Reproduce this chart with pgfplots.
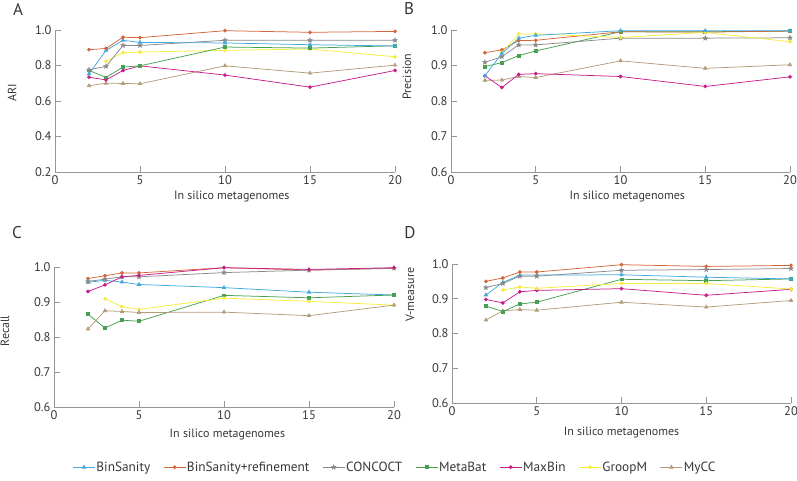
\documentclass[border=0pt]{standalone}
\usepackage{fontspec}
\setmainfont{PT Sans}
\usepackage{pgfplots}
\usepackage{pgfplotstable}
\pgfplotsset{compat=1.18}

\definecolor{cBS}{RGB}{64,170,222}
\definecolor{cBR}{RGB}{214,100,58}
\definecolor{cCC}{RGB}{138,138,138}
\definecolor{cMB}{RGB}{72,160,82}
\definecolor{cMX}{RGB}{200,30,140}
\definecolor{cGM}{RGB}{246,236,60}
\definecolor{cMY}{RGB}{180,156,122}
\definecolor{axgray}{RGB}{150,150,150}
\definecolor{txt}{RGB}{55,55,55}

% filled five-pointed star for CONCOCT
\pgfdeclareplotmark{fstar}{%
  \pgfpathmoveto{\pgfpointpolar{90}{\pgfplotmarksize}}%
  \pgfpathlineto{\pgfpointpolar{126}{0.42\pgfplotmarksize}}%
  \pgfpathlineto{\pgfpointpolar{162}{\pgfplotmarksize}}%
  \pgfpathlineto{\pgfpointpolar{198}{0.42\pgfplotmarksize}}%
  \pgfpathlineto{\pgfpointpolar{234}{\pgfplotmarksize}}%
  \pgfpathlineto{\pgfpointpolar{270}{0.42\pgfplotmarksize}}%
  \pgfpathlineto{\pgfpointpolar{306}{\pgfplotmarksize}}%
  \pgfpathlineto{\pgfpointpolar{342}{0.42\pgfplotmarksize}}%
  \pgfpathlineto{\pgfpointpolar{18}{\pgfplotmarksize}}%
  \pgfpathlineto{\pgfpointpolar{54}{0.42\pgfplotmarksize}}%
  \pgfpathclose
  \pgfusepathqfillstroke}

% x bs br cc mb mx gm my
\pgfplotstableread{
x  bs    br    cc    mb    mx    gm    my
2  0.753 0.889 0.776 0.772 0.734 nan   0.686
3  0.885 0.896 0.795 0.733 0.719 0.823 0.700
4  0.942 0.959 0.913 0.791 0.772 0.872 0.699
5  0.930 0.957 0.913 0.798 0.798 0.876 0.697
10 0.927 0.996 0.942 0.904 0.746 0.885 0.798
15 0.917 0.987 0.942 0.898 0.678 0.893 0.757
20 0.910 0.992 0.942 0.911 0.772 0.849 0.802
}\tabA

\pgfplotstableread{
x  bs    br    cc    mb    mx    gm    my
2  0.871 0.936 0.909 0.897 0.871 nan   0.858
3  0.934 0.944 0.925 0.908 0.838 0.937 0.859
4  0.977 0.970 0.958 0.928 0.875 0.989 0.869
5  0.985 0.971 0.958 0.941 0.877 0.989 0.866
10 0.998 0.995 0.977 0.995 0.869 0.979 0.913
15 0.998 0.994 0.977 0.995 0.841 0.993 0.892
20 0.998 0.997 0.978 0.997 0.868 0.967 0.902
}\tabB

\pgfplotstableread{
x  bs    br    cc    mb    mx    gm    my
2  0.956 0.967 0.959 0.865 0.930 nan   0.823
3  0.962 0.975 0.965 0.826 0.949 0.909 0.875
4  0.957 0.983 0.972 0.848 0.972 0.887 0.873
5  0.950 0.983 0.972 0.845 0.976 0.879 0.870
10 0.941 0.998 0.984 0.919 0.998 0.911 0.871
15 0.928 0.991 0.991 0.912 0.993 0.902 0.861
20 0.920 0.996 0.997 0.920 0.998 0.891 0.891
}\tabC

\pgfplotstableread{
x  bs    br    cc    mb    mx    gm    my
2  0.911 0.950 0.932 0.879 0.898 nan   0.839
3  0.947 0.960 0.944 0.863 0.888 0.925 0.865
4  0.968 0.977 0.965 0.885 0.920 0.934 0.869
5  0.968 0.977 0.965 0.890 0.924 0.930 0.867
10 0.969 0.998 0.982 0.956 0.929 0.944 0.890
15 0.962 0.993 0.984 0.952 0.910 0.944 0.876
20 0.957 0.996 0.987 0.957 0.927 0.928 0.895
}\tabD

\pgfplotsset{
  panel/.style={
    scale only axis, width=340pt, height=142pt,
    axis lines=left, axis line style={-, draw=axgray, line width=0.8pt},
    xmin=0, xmax=20, xtick={0,5,10,15,20},
    tick align=inside, major tick length=6pt,
    tick style={axgray, line width=0.8pt},
    tick label style={font=\fontsize{12.5}{14}\selectfont, text=txt},
    label style={font=\fontsize{12}{14}\selectfont, text=txt},
    yticklabel style={/pgf/number format/.cd, fixed, fixed zerofill, precision=1},
    /pgf/number format/assume math mode=true,
    clip=false,
    xlabel={In silico metagenomes},
    every axis plot/.append style={line width=0.75pt},
  },
  bs/.style={color=cBS, mark=triangle*, mark size=1.9pt, mark options={solid}},
  br/.style={color=cBR, mark=*, mark size=1.5pt},
  cc/.style={color=cCC, mark=fstar, mark size=2.6pt, mark options={line width=0.3pt}},
  mb/.style={color=cMB, mark=square*, mark size=1.4pt},
  mx/.style={color=cMX, mark=*, mark size=1.5pt},
  gm/.style={color=cGM, mark=*, mark size=1.5pt},
  my/.style={color=cMY, mark=triangle*, mark size=1.9pt},
}

\begin{document}
\begin{tikzpicture}
\useasboundingbox (0,0) rectangle (797pt,481pt);

\node[font=\fontsize{17}{20}\selectfont, text=txt] at (18pt,472pt) {A};
\node[font=\fontsize{17}{20}\selectfont, text=txt] at (409pt,472pt) {B};
\node[font=\fontsize{17}{20}\selectfont, text=txt] at (17pt,248pt) {C};
\node[font=\fontsize{17}{20}\selectfont, text=txt] at (410pt,248pt) {D};

% A
\begin{axis}[panel, at={(55pt,309pt)}, anchor=south west,
  ymin=0.2, ymax=1.0, ytick={0.2,0.4,0.6,0.8,1.0},
  ylabel={ARI},
  ylabel style={at={(axis description cs:-0.126,0.556)}, anchor=center},
  xlabel style={at={(axis description cs:0.52,-0.17)}, anchor=center}]
\addplot[my] table[y=my]{\tabA};
\addplot[gm] table[y=gm]{\tabA};
\addplot[mx] table[y=mx]{\tabA};
\addplot[mb] table[y=mb]{\tabA};
\addplot[cc] table[y=cc]{\tabA};
\addplot[bs] table[y=bs]{\tabA};
\addplot[br] table[y=br]{\tabA};
\end{axis}

% B
\begin{axis}[panel, at={(451pt,309pt)}, anchor=south west, width=339pt,
  ymin=0.6, ymax=1.0, ytick={0.6,0.7,0.8,0.9,1.0},
  ylabel={Precision},
  ylabel style={at={(axis description cs:-0.13,0.67)}, anchor=center},
  xlabel style={at={(axis description cs:0.52,-0.17)}, anchor=center}]
\addplot[my] table[y=my]{\tabB};
\addplot[mx] table[y=mx]{\tabB};
\addplot[mb] table[y=mb]{\tabB};
\addplot[cc] table[y=cc]{\tabB};
\addplot[br] table[y=br]{\tabB};
\addplot[gm] table[y=gm]{\tabB};
\addplot[bs] table[y=bs]{\tabB};
\end{axis}

% C (carries the legend)
\begin{axis}[panel, at={(54pt,74pt)}, anchor=south west, height=140pt,
  ymin=0.6, ymax=1.0, ytick={0.6,0.7,0.8,0.9,1.0},
  ylabel={Recall},
  ylabel style={at={(axis description cs:-0.144,0.543)}, anchor=center},
  xlabel style={at={(axis description cs:0.51,-0.2)}, anchor=center},
  legend columns=7,
  legend image code/.code={%
    \draw[mark repeat=2, mark phase=2] plot coordinates {(0pt,0pt) (11pt,0pt) (22pt,0pt)};},
  legend style={at={(axis description cs:1.003,-0.43)}, anchor=center,
    draw=none, fill=none, font=\fontsize{13.3}{15}\selectfont, text=txt,
    /tikz/every even column/.append style={column sep=11pt},
    /tikz/every odd column/.append style={column sep=-1pt}}]
\addplot[bs] table[y=bs]{\tabC};
\addlegendentry{BinSanity}
\addplot[br] table[y=br]{\tabC};
\addlegendentry{BinSanity+refinement}
\addplot[cc] table[y=cc]{\tabC};
\addlegendentry{CONCOCT}
\addplot[mb] table[y=mb]{\tabC};
\addlegendentry{MetaBat}
\addplot[mx] table[y=mx]{\tabC};
\addlegendentry{MaxBin}
\addplot[gm] table[y=gm]{\tabC};
\addlegendentry{GroopM}
\addplot[my] table[y=my]{\tabC};
\addlegendentry{MyCC}
\end{axis}

% D
\begin{axis}[panel, at={(452pt,78pt)}, anchor=south west, width=339pt, height=139pt,
  ymin=0.6, ymax=1.0, ytick={0.6,0.7,0.8,0.9,1.0},
  ylabel={V-measure},
  ylabel style={at={(axis description cs:-0.124,0.78)}, anchor=center},
  xlabel style={at={(axis description cs:0.50,-0.216)}, anchor=center}]
\addplot[my] table[y=my]{\tabD};
\addplot[mb] table[y=mb]{\tabD};
\addplot[mx] table[y=mx]{\tabD};
\addplot[gm] table[y=gm]{\tabD};
\addplot[bs] table[y=bs]{\tabD};
\addplot[cc] table[y=cc]{\tabD};
\addplot[br] table[y=br]{\tabD};
\end{axis}
\end{tikzpicture}
\end{document}
